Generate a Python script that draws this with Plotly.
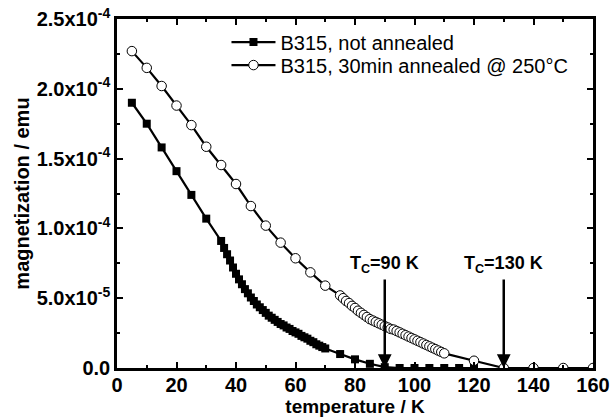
import plotly.graph_objects as go

# ---- data (magnetization in units of 1e-4 emu) ----
sq_T = [5, 10, 15, 20, 25, 30,
        35, 36, 37, 38, 39, 40, 41, 42, 43, 44, 45, 46, 47, 48, 49, 50,
        51, 52, 53, 54, 55, 56, 57, 58, 59, 60, 61, 62, 63, 64, 65, 66,
        67, 68, 69, 70,
        75, 80, 85, 90, 95, 100, 105, 110, 115, 120]
sq_M = [1.90, 1.75, 1.58, 1.41, 1.24, 1.07,
        0.91, 0.86, 0.815, 0.77, 0.72, 0.675, 0.635, 0.60, 0.565, 0.535, 0.505, 0.48, 0.455, 0.435, 0.415, 0.395,
        0.375, 0.36, 0.345, 0.33, 0.315, 0.305, 0.29, 0.28, 0.265, 0.255, 0.245, 0.23, 0.22, 0.21, 0.195, 0.185,
        0.17, 0.16, 0.15, 0.14,
        0.10, 0.062, 0.03, 0.006, 0.0, 0.0, 0.0, 0.0, 0.0, 0.0]

ci_T = [5, 10, 15, 20, 25, 30, 35, 40, 45, 50, 55, 60, 65, 70,
        75, 76, 77, 78, 79, 80, 81, 82, 83, 84, 85, 86, 87, 88, 89, 90,
        91, 92, 93, 94, 95, 96, 97, 98, 99, 100, 101, 102, 103, 104, 105,
        106, 107, 108, 109, 110,
        120, 130, 140, 150, 160]
ci_M = [2.27, 2.15, 2.02, 1.88, 1.74, 1.585, 1.454, 1.318, 1.16, 1.02, 0.898, 0.786, 0.685, 0.59,
        0.52, 0.50, 0.48, 0.465, 0.445, 0.43, 0.41, 0.395, 0.38, 0.365, 0.35, 0.34, 0.33, 0.32, 0.31, 0.30,
        0.29, 0.28, 0.275, 0.265, 0.255, 0.245, 0.235, 0.225, 0.215, 0.205, 0.195, 0.185, 0.175, 0.165, 0.155,
        0.145, 0.135, 0.125, 0.115, 0.105,
        0.052, 0.0, 0.0, 0.0, 0.0]

series_names = ["B315, not annealed", "B315, 30min annealed @ 250°C"]

y_tickvals = [0.0, 0.5e-4, 1.0e-4, 1.5e-4, 2.0e-4, 2.5e-4]
y_ticktext = ["0.0", "5.0x10<sup>-5</sup>", "1.0x10<sup>-4</sup>", "1.5x10<sup>-4</sup>",
              "2.0x10<sup>-4</sup>", "2.5x10<sup>-4</sup>"]

tc_values = [90, 130]
tc_labels = ["T<sub>C</sub>=90 K", "T<sub>C</sub>=130 K"]
tc_text_M = 0.74e-4
tc_tail_M = 0.645e-4

scale = 1e-4
FONT = "Arial, 'Liberation Sans', sans-serif"

fig = go.Figure()
fig.add_trace(go.Scatter(
    x=sq_T, y=[v * scale for v in sq_M], mode="lines+markers", name=series_names[0],
    line=dict(color="black", width=2.2),
    marker=dict(symbol="square", size=8, color="black", line=dict(width=0)),
    legend="legend",
))
fig.add_trace(go.Scatter(
    x=ci_T, y=[v * scale for v in ci_M], mode="lines+markers", name=series_names[1],
    line=dict(color="black", width=2.2),
    marker=dict(symbol="circle", size=9.5, color="white", line=dict(color="black", width=1)),
    legend="legend2",
))

for t, lab in zip(tc_values, tc_labels):
    fig.add_annotation(x=t, y=tc_text_M, text=lab, showarrow=False,
                       font=dict(family=FONT, size=18, color="black", weight="bold"),
                       xanchor="center", yanchor="middle")
    fig.add_annotation(x=t, y=0, ax=t, ay=tc_tail_M, axref="x", ayref="y",
                       text="", showarrow=True, arrowhead=2, arrowsize=1.1,
                       arrowwidth=2.5, arrowcolor="black")

axis_common = dict(
    showline=True, linecolor="black", linewidth=2.5, mirror="allticks",
    ticks="inside", tickcolor="black", tickwidth=2, ticklen=6,
    showgrid=False, zeroline=False, automargin=False,
    tickfont=dict(family=FONT, size=20, color="black", weight="bold"),
)

fig.update_xaxes(
    range=[0, 160], dtick=20, tick0=0, ticklabelstandoff=-3,
    minor=dict(dtick=10, tick0=0, ticks="inside", ticklen=3, tickwidth=2, tickcolor="black"),
    title=dict(text="temperature / K", standoff=3,
               font=dict(family=FONT, size=19, color="black", weight="bold")),
    **axis_common,
)
fig.update_yaxes(
    range=[0, 2.5e-4], tickmode="array", tickvals=y_tickvals, ticktext=y_ticktext,
    minor=dict(dtick=0.25e-4, tick0=0, ticks="inside", ticklen=3, tickwidth=2, tickcolor="black"),
    title=dict(text="magnetization / emu", standoff=2,
               font=dict(family=FONT, size=20, color="black", weight="bold")),
    **axis_common,
)

leg_common = dict(xanchor="left", yanchor="middle", bgcolor="rgba(0,0,0,0)",
                  itemwidth=44, font=dict(family=FONT, size=20, color="black"))
fig.update_layout(
    width=610, height=418,
    margin=dict(l=117, r=17, t=19, b=50, autoexpand=False),
    paper_bgcolor="white", plot_bgcolor="white",
    showlegend=True,
    legend=dict(x=0.23, y=0.934, **leg_common),
    legend2=dict(x=0.23, y=0.868, **leg_common),
)

fig.write_html("out.html",
               config={"displayModeBar": False},
               post_script="document.body.style.margin='0';document.body.style.overflow='hidden';")
